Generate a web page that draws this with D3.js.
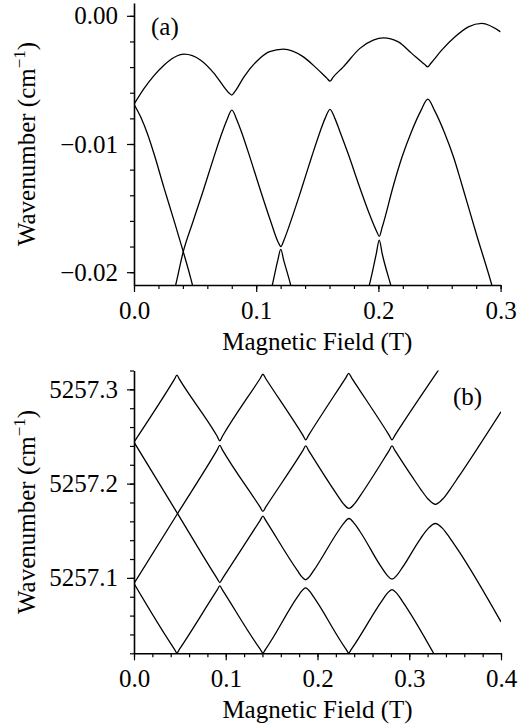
<!DOCTYPE html>
<html>
<head>
<meta charset="utf-8">
<script src="https://cdn.jsdelivr.net/npm/d3@7"></script>
<style>
  html, body { margin: 0; padding: 0; background: #fff; }
  svg { display: block; }
  text { font-family: "Liberation Serif", "Times New Roman", Times, serif; font-size: 25px; fill: #000; }
</style>
</head>
<body>
<svg id="chart" width="519" height="728"></svg>
<script>
// ---------- Panel (a): wavenumber offset (cm^-1) vs magnetic field (T) ----------
const xTicksA = [0, 0.1, 0.2, 0.3];
const yTicksA = [0, -0.01, -0.02];

const upperBranchA = [
  [0, -0.0069], [0.008, -0.0057], [0.016, -0.0047], [0.0245, -0.00385], [0.0327, -0.00325],
  [0.041, -0.00299], [0.0546, -0.00346], [0.0655, -0.00449], [0.0736, -0.00554], [0.0775, -0.0060],
  [0.0800, -0.00618], [0.0825, -0.00592], [0.09, -0.00476], [0.102, -0.0034], [0.111, -0.0028],
  [0.1222, -0.0026], [0.1386, -0.0032], [0.1495, -0.0041], [0.158, -0.00488], [0.1604, -0.0051],
  [0.163, -0.00478], [0.1713, -0.00398], [0.1849, -0.00254], [0.1958, -0.0019], [0.204, -0.00172],
  [0.2163, -0.00203], [0.2273, -0.00293], [0.238, -0.0038], [0.2403, -0.00398], [0.2428, -0.00372],
  [0.2518, -0.00268], [0.2627, -0.00164], [0.2736, -0.00086], [0.2846, -0.00059], [0.3, -0.00125]
];

const fallingBranchA = [
  [0, -0.0069], [0.0055, -0.0079], [0.011, -0.0092], [0.0165, -0.0108], [0.0245, -0.0134],
  [0.0325, -0.0159], [0.0403, -0.0184], [0.0465, -0.0205], [0.05, -0.0218]
];

const archBranchA = [
  [0.031, -0.0222], [0.0341, -0.0210], [0.0403, -0.0184], [0.0481, -0.0161], [0.0561, -0.0138],
  [0.0651, -0.0111], [0.0721, -0.0091], [0.0761, -0.0081], [0.0801, -0.00736], [0.0841, -0.0081],
  [0.0881, -0.0091], [0.0951, -0.0111], [0.1041, -0.0138], [0.1121, -0.0161], [0.1177, -0.0176],
  [0.1202, -0.0180], [0.1227, -0.0175], [0.1284, -0.0160], [0.1364, -0.0137], [0.1454, -0.0110],
  [0.1524, -0.0090], [0.1564, -0.0080], [0.1604, -0.0073], [0.1644, -0.0080], [0.1684, -0.0090],
  [0.1754, -0.0108], [0.1844, -0.0133], [0.1924, -0.0154], [0.1985, -0.0168], [0.2007, -0.0172],
  [0.2031, -0.0165], [0.2124, -0.0132], [0.2194, -0.0110], [0.2268, -0.0091], [0.2348, -0.0074],
  [0.2404, -0.0065], [0.246, -0.0074], [0.254, -0.0091], [0.2614, -0.0110], [0.2684, -0.0132],
  [0.2804, -0.0171], [0.2928, -0.0210], [0.296, -0.0221]
];

const gapBranchA1 = [
  [0.1115, -0.0217], [0.1132, -0.0210], [0.1176, -0.0191], [0.1201, -0.01822],
  [0.1226, -0.0191], [0.1282, -0.0210], [0.13, -0.0217]
];

const gapBranchA2 = [
  [0.190, -0.0219], [0.1926, -0.0210], [0.1982, -0.0186], [0.2007, -0.0175],
  [0.2032, -0.0186], [0.2101, -0.0210], [0.2125, -0.0218]
];

// ---------- Panel (b): absolute wavenumber (cm^-1) vs magnetic field (T) ----------
const xTicksB = [0, 0.1, 0.2, 0.3, 0.4];
const yTicksB = [5257.1, 5257.2, 5257.3];

const levelB1 = [
  [0, 5257.244], [0.044, 5257.3105], [0.0468, 5257.315], [0.0496, 5257.3105],
  [0.0905, 5257.2505], [0.0935, 5257.2455], [0.0965, 5257.2505],
  [0.1375, 5257.3115], [0.1405, 5257.316], [0.1435, 5257.3115],
  [0.184, 5257.2515], [0.1872, 5257.2465], [0.1904, 5257.2515],
  [0.231, 5257.3125], [0.234, 5257.317], [0.237, 5257.3125],
  [0.278, 5257.2515], [0.2812, 5257.2465], [0.2845, 5257.2515],
  [0.34, 5257.332]
];

const levelB2 = [
  [0, 5257.094], [0.047, 5257.1675], [0.0905, 5257.2355], [0.0935, 5257.2405], [0.0965, 5257.2355],
  [0.1375, 5257.175], [0.1405, 5257.1705], [0.1435, 5257.175],
  [0.184, 5257.235], [0.1872, 5257.240], [0.1904, 5257.235],
  [0.2223, 5257.1868], [0.2283, 5257.1785], [0.2343, 5257.1737], [0.2403, 5257.1785], [0.2463, 5257.1868],
  [0.278, 5257.235], [0.2812, 5257.240], [0.2845, 5257.235],
  [0.3035, 5257.2068], [0.3125, 5257.194], [0.3205, 5257.1837], [0.3285, 5257.178],
  [0.3365, 5257.1837], [0.3445, 5257.194], [0.3535, 5257.2068],
  [0.4, 5257.2762]
];

const levelB3 = [
  [0, 5257.244], [0.047, 5257.169], [0.0905, 5257.0995], [0.0935, 5257.095], [0.0965, 5257.0995],
  [0.1375, 5257.161], [0.1405, 5257.1655], [0.1435, 5257.161],
  [0.178, 5257.1079], [0.183, 5257.1011], [0.187, 5257.098], [0.191, 5257.1011], [0.196, 5257.1079],
  [0.2223, 5257.1492], [0.2283, 5257.1575], [0.2343, 5257.163], [0.2403, 5257.1575], [0.2463, 5257.1492],
  [0.2702, 5257.1105], [0.2762, 5257.1024], [0.2812, 5257.0986], [0.2862, 5257.1024], [0.2922, 5257.1105],
  [0.3125, 5257.142], [0.3205, 5257.1523], [0.3285, 5257.1577], [0.3365, 5257.1523],
  [0.3445, 5257.142], [0.3535, 5257.1292],
  [0.4, 5257.0533]
];

const levelB4 = [
  [0, 5257.094], [0.044, 5257.0245], [0.0468, 5257.0205], [0.0496, 5257.0245],
  [0.0905, 5257.087], [0.0935, 5257.0915], [0.0965, 5257.087],
  [0.1375, 5257.0245], [0.1405, 5257.0205], [0.1435, 5257.0245],
  [0.178, 5257.0795], [0.183, 5257.0863], [0.187, 5257.0894], [0.191, 5257.0863], [0.196, 5257.0795],
  [0.231, 5257.0245], [0.234, 5257.0205], [0.237, 5257.0245],
  [0.2702, 5257.0757], [0.2762, 5257.0838], [0.2812, 5257.0876], [0.2862, 5257.0838], [0.2922, 5257.0757],
  [0.33, 5257.014]
];

// ---------- drawing ----------
const svg = d3.select("#chart");

function drawPanel(cfg) {
  const x = d3.scaleLinear().domain(cfg.xDomain).range(cfg.xRange);
  const y = d3.scaleLinear().domain(cfg.yDomain).range(cfg.yRange);
  const left = cfg.xRange[0], bottom = cfg.yRange[0];

  const g = svg.append("g");

  // curves, clipped to the plotting area
  const clipId = "clip-" + cfg.id;
  svg.append("defs").append("clipPath").attr("id", clipId)
    .append("rect")
    .attr("x", cfg.xRange[0]).attr("y", cfg.yRange[1])
    .attr("width", cfg.xRange[1] - cfg.xRange[0])
    .attr("height", cfg.yRange[0] - cfg.yRange[1]);

  const line = d3.line()
    .x(d => x(d[0]))
    .y(d => y(d[1]))
    .curve(d3.curveMonotoneX);

  g.append("g").attr("clip-path", `url(#${clipId})`)
    .selectAll("path")
    .data(cfg.curves)
    .join("path")
    .attr("d", line)
    .attr("fill", "none")
    .attr("stroke", "#000")
    .attr("stroke-width", 1.3);

  // minor ticks
  const xMinorAxis = g.append("g").attr("transform", `translate(0,${bottom})`)
    .call(d3.axisBottom(x).tickValues(cfg.xMinor).tickSize(4).tickSizeOuter(0).tickFormat(""));
  const yMinorAxis = g.append("g").attr("transform", `translate(${left},0)`)
    .call(d3.axisLeft(y).tickValues(cfg.yMinor).tickSize(4).tickSizeOuter(0).tickFormat(""));
  [xMinorAxis, yMinorAxis].forEach(a => a.select(".domain").remove());

  // major ticks with labels
  const xAxis = g.append("g").attr("transform", `translate(0,${bottom})`)
    .call(d3.axisBottom(x).tickValues(cfg.xMajor).tickSize(7).tickPadding(9)
      .tickSizeOuter(0).tickFormat(cfg.xFormat));
  const yAxis = g.append("g").attr("transform", `translate(${left},0)`)
    .call(d3.axisLeft(y).tickValues(cfg.yMajor).tickSize(7).tickPadding(9)
      .tickSizeOuter(0).tickFormat(cfg.yFormat));

  g.selectAll(".tick line").attr("stroke", "#000").attr("stroke-width", 1.2);
  g.selectAll(".domain").attr("stroke", "#000").attr("stroke-width", 1.6);
  g.selectAll(".tick text").attr("font-size", null).attr("font-family", null);
  [xMinorAxis, yMinorAxis, xAxis, yAxis].forEach(a => a.attr("font-size", null).attr("font-family", null));

  // axis titles
  g.append("text")
    .attr("x", (cfg.xRange[0] + cfg.xRange[1]) / 2)
    .attr("y", bottom + 65)
    .attr("text-anchor", "middle")
    .text("Magnetic Field (T)");

  const yt = g.append("text")
    .attr("transform", `translate(35,${(cfg.yRange[0] + cfg.yRange[1]) / 2}) rotate(-90)`)
    .attr("text-anchor", "middle");
  yt.append("tspan").text("Wavenumber (cm");
  yt.append("tspan").attr("font-size", "17px").attr("dy", -10).text("\u22121");
  yt.append("tspan").attr("dy", 10).text(")");

  // panel tag
  g.append("text").attr("x", cfg.tagPos[0]).attr("y", cfg.tagPos[1]).text(cfg.tag);
}

const fmtSigned = v => d3.format(".2f")(v).replace("-", "\u2212");

drawPanel({
  id: "a",
  xDomain: [0, 0.3], xRange: [134, 500.6],
  yDomain: [-0.021, 0.001], yRange: [285, 3],
  xMajor: xTicksA, xMinor: d3.range(0, 0.3001, 0.02),
  yMajor: yTicksA, yMinor: d3.range(-0.02, 0.0001, 0.002),
  xFormat: d3.format(".1f"), yFormat: fmtSigned,
  curves: [upperBranchA, fallingBranchA, archBranchA, gapBranchA1, gapBranchA2],
  tag: "(a)", tagPos: [151, 35]
});

drawPanel({
  id: "b",
  xDomain: [0, 0.4], xRange: [134, 501],
  yDomain: [5257.02, 5257.32], yRange: [653.3, 370.5],
  xMajor: xTicksB, xMinor: d3.range(0, 0.4001, 0.02),
  yMajor: yTicksB, yMinor: d3.range(5257.02, 5257.3201, 0.02),
  xFormat: d3.format(".1f"), yFormat: d3.format(".1f"),
  curves: [levelB1, levelB2, levelB3, levelB4],
  tag: "(b)", tagPos: [453, 405]
});
</script>
</body>
</html>
